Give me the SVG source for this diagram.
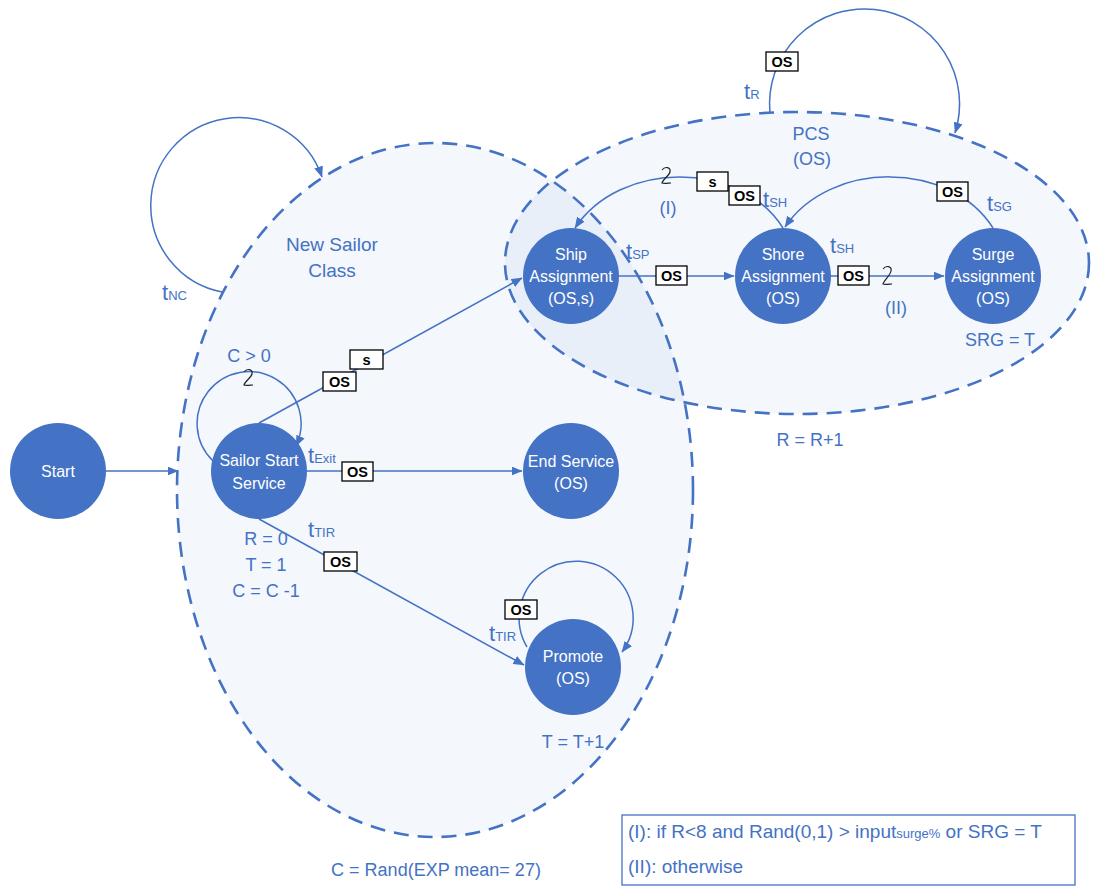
<svg xmlns="http://www.w3.org/2000/svg" width="1094" height="886" viewBox="0 0 1094 886">
<style>
.region{fill:#4472c4;fill-opacity:0.06;stroke:#4472c4;stroke-width:2.6;stroke-dasharray:15 9}
.node{fill:#4472c4}
.ntext{font-family:"Liberation Sans",Arial,sans-serif;font-size:16px;fill:#ffffff;text-anchor:middle}
.lbl{font-family:"Liberation Sans",Arial,sans-serif;font-size:18px;fill:#4472c4}
.big{font-size:19px}
.tl{font-family:"Liberation Sans",Arial,sans-serif;font-size:22px;fill:#4472c4}
.sub{font-size:13px}
.edge{fill:none;stroke:#4472c4;stroke-width:1.5}
.box{fill:#ffffff;stroke:#000000;stroke-width:1.3}
.btxt{font-family:"Liberation Sans",Arial,sans-serif;font-size:14.5px;font-weight:bold;fill:#000000;text-anchor:middle}
.sq{fill:none;stroke:#222222;stroke-width:1.2}
</style>
<defs>
<marker id="arr" viewBox="0 0 11 9" refX="10.5" refY="4.5" markerWidth="11" markerHeight="9" markerUnits="userSpaceOnUse" orient="auto">
<path d="M0,0 L11,4.5 L0,9 z" fill="#4472c4"/>
</marker>
</defs>
<rect width="1094" height="886" fill="#ffffff"/>

<g id="region-new-sailor-class">
<ellipse class="region" cx="435" cy="490" rx="258" ry="347"/>
<text class="lbl big" x="332" y="251" text-anchor="middle">New Sailor</text>
<text class="lbl big" x="332" y="277" text-anchor="middle">Class</text>
</g>
<g id="region-pcs">
<ellipse class="region" cx="797" cy="263" rx="292" ry="151"/>
<text class="lbl" x="811" y="140" text-anchor="middle">PCS</text>
<text class="lbl" x="812" y="165" text-anchor="middle">(OS)</text>
</g>

<g id="connectors">
<line class="edge" x1="106" y1="471" x2="178" y2="471" marker-end="url(#arr)"/>
<path class="edge" d="M222,292 A88,88 0 1 1 322,177" marker-end="url(#arr)"/>
<path class="edge" d="M770,113 A95,95 0 1 1 955,133" marker-end="url(#arr)"/>
<path class="edge" d="M213,461 A52,52 0 1 1 296,446" marker-end="url(#arr)"/>
<path class="edge" d="M527,647 A57,57 0 1 1 622,652" marker-end="url(#arr)"/>
<line class="edge" x1="259" y1="423" x2="522" y2="278" marker-end="url(#arr)"/>
<line class="edge" x1="307" y1="471" x2="522" y2="471" marker-end="url(#arr)"/>
<line class="edge" x1="259" y1="519" x2="524" y2="665" marker-end="url(#arr)"/>
<line class="edge" x1="619" y1="276" x2="734" y2="276" marker-end="url(#arr)"/>
<line class="edge" x1="831" y1="276" x2="944" y2="276" marker-end="url(#arr)"/>
<path class="edge" d="M783,228 C740,160 620,160 575,228" marker-end="url(#arr)"/>
<path class="edge" d="M993,228 C950,160 830,160 785,227" marker-end="url(#arr)"/>
</g>

<g id="node-start"><circle class="node" cx="58" cy="471" r="48"/><text class="ntext" x="58" y="477">Start</text></g>
<g id="node-sailor-start"><circle class="node" cx="259" cy="471" r="48"/><text class="ntext" x="259" y="466">Sailor Start</text><text class="ntext" x="259" y="489">Service</text></g>
<g id="node-end-service"><circle class="node" cx="571" cy="471" r="48"/><text class="ntext" x="571" y="467">End Service</text><text class="ntext" x="571" y="489">(OS)</text></g>
<g id="node-promote"><circle class="node" cx="573" cy="667" r="48"/><text class="ntext" x="573" y="662">Promote</text><text class="ntext" x="573" y="684">(OS)</text></g>
<g id="node-ship"><circle class="node" cx="571" cy="276" r="48"/><text class="ntext" x="571" y="260">Ship</text><text class="ntext" x="571" y="282">Assignment</text><text class="ntext" x="571" y="304">(OS,s)</text></g>
<g id="node-shore"><circle class="node" cx="783" cy="276" r="48"/><text class="ntext" x="783" y="260">Shore</text><text class="ntext" x="783" y="282">Assignment</text><text class="ntext" x="783" y="304">(OS)</text></g>
<g id="node-surge"><circle class="node" cx="993" cy="276" r="48"/><text class="ntext" x="993" y="260">Surge</text><text class="ntext" x="993" y="282">Assignment</text><text class="ntext" x="993" y="304">(OS)</text></g>

<g id="labels">
<text class="tl" x="162" y="300">t<tspan class="sub">NC</tspan></text>
<text class="tl" x="744" y="99">t<tspan class="sub">R</tspan></text>
<text class="tl" x="626" y="259">t<tspan class="sub">SP</tspan></text>
<text class="tl" x="763" y="207">t<tspan class="sub">SH</tspan></text>
<text class="tl" x="830" y="253">t<tspan class="sub">SH</tspan></text>
<text class="tl" x="987" y="211">t<tspan class="sub">SG</tspan></text>
<text class="tl" x="308" y="463">t<tspan class="sub">Exit</tspan></text>
<text class="tl" x="308" y="537">t<tspan class="sub">TIR</tspan></text>
<text class="tl" x="489" y="641">t<tspan class="sub">TIR</tspan></text>
<text class="lbl" x="249" y="362" text-anchor="middle">C &gt; 0</text>
<text class="lbl" x="266" y="545" text-anchor="middle">R = 0</text>
<text class="lbl" x="266" y="571" text-anchor="middle">T = 1</text>
<text class="lbl" x="266" y="597" text-anchor="middle">C = C -1</text>
<text class="lbl" x="573" y="748" text-anchor="middle">T = T+1</text>
<text class="lbl" x="1000" y="346" text-anchor="middle">SRG = T</text>
<text class="lbl" x="810" y="446" text-anchor="middle">R = R+1</text>
<text class="lbl" x="668" y="214" text-anchor="middle">(I)</text>
<text class="lbl" x="896" y="314" text-anchor="middle">(II)</text>
<text class="lbl" x="436" y="876" text-anchor="middle">C = Rand(EXP mean= 27)</text>
</g>

<g id="squiggles">
<path class="sq" d="M244,372 c3,-4 9,-3 8,2 c-1,4 -7,7 -8,11 c2,1 7,0 9,0"/>
<path class="sq" d="M662,170 c3,-4 9,-3 8,2 c-1,4 -7,7 -8,11 c2,1 7,0 9,0"/>
<path class="sq" d="M883,269 c3,-4 9,-3 8,2 c-1,5 -7,9 -8,13 c2,1 7,0 9,0"/>
</g>

<g id="edge-labels">
<rect class="box" x="350" y="350" width="33" height="19"/><text class="btxt" x="366.5" y="365">s</text>
<rect class="box" x="323" y="372" width="33" height="19"/><text class="btxt" x="339.5" y="387">OS</text>
<rect class="box" x="342" y="462" width="31" height="19"/><text class="btxt" x="357.5" y="477">OS</text>
<rect class="box" x="324" y="552" width="33" height="19"/><text class="btxt" x="340.5" y="567">OS</text>
<rect class="box" x="505" y="600" width="32" height="19"/><text class="btxt" x="521" y="615">OS</text>
<rect class="box" x="656" y="266" width="31" height="19"/><text class="btxt" x="671.5" y="281">OS</text>
<rect class="box" x="838" y="266" width="31" height="19"/><text class="btxt" x="853.5" y="281">OS</text>
<rect class="box" x="697" y="172" width="31" height="19"/><text class="btxt" x="712.5" y="187">s</text>
<rect class="box" x="729" y="186" width="31" height="19"/><text class="btxt" x="744.5" y="201">OS</text>
<rect class="box" x="937" y="182" width="31" height="19"/><text class="btxt" x="952.5" y="197">OS</text>
<rect class="box" x="766" y="52" width="32" height="19"/><text class="btxt" x="782" y="67">OS</text>
</g>

<g id="legend">
<rect x="622" y="815" width="453" height="70" fill="#ffffff" stroke="#4472c4" stroke-width="1.3"/>
<text class="lbl big" x="628" y="838">(I): if R&lt;8 and Rand(0,1) &gt; input<tspan class="sub">surge%</tspan> or SRG = T</text>
<text class="lbl big" x="628" y="873">(II): otherwise</text>
</g>
</svg>
